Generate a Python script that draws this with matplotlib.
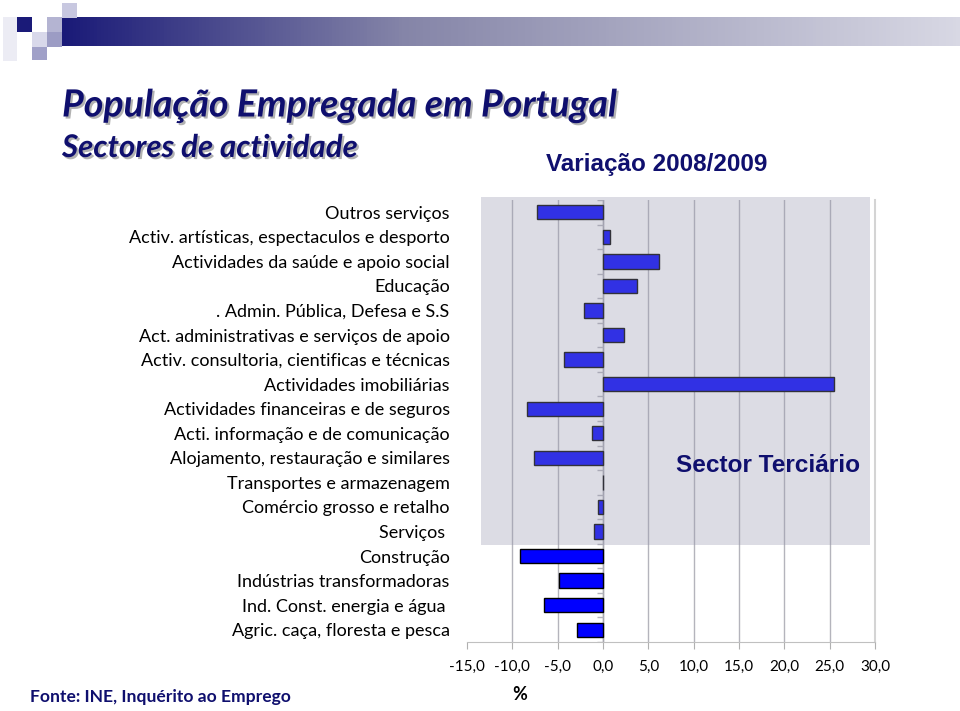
import matplotlib.pyplot as plt
import matplotlib.patheffects as pe
from matplotlib.patches import Rectangle
from matplotlib.colors import LinearSegmentedColormap
import numpy as np

# categorias de cima para baixo
categorias = [
    'Outros serviços',
    'Activ. artísticas, espectaculos e desporto',
    'Actividades da saúde e apoio social',
    'Educação',
    '. Admin. Pública, Defesa e S.S',
    'Act. administrativas e serviços de apoio',
    'Activ. consultoria, cientificas e técnicas',
    'Actividades imobiliárias',
    'Actividades financeiras e de seguros',
    'Acti. informação e de comunicação',
    'Alojamento, restauração e similares',
    'Transportes e armazenagem',
    'Comércio grosso e retalho',
    'Serviços ',
    'Construção',
    'Indústrias transformadoras',
    'Ind. Const. energia e água ',
    'Agric. caça, floresta e pesca',
]
variacao = [-7.3, 0.8, 6.2, 3.8, -2.1, 2.3, -4.3, 25.5, -8.4, -1.2,
            -7.6, 0.0, -0.5, -1.0, -9.1, -4.8, -6.5, -2.9]
n_terciario = 14
xticks = [-15, -10, -5, 0, 5, 10, 15, 20, 25, 30]

navy = '#0f0f6e'
W, H = 960, 711

fig = plt.figure(figsize=(9.6, 7.11), dpi=100)


def fig_rect(x, y, w, h, color):
    fig.add_artist(Rectangle((x / W, 1 - (y + h) / H), w / W, h / H,
                             transform=fig.transFigure, color=color, lw=0))


# faixa decorativa no topo
ban = fig.add_axes([62 / W, 1 - 46 / H, (W - 62) / W, 29 / H])
cmap = LinearSegmentedColormap.from_list(
    'ban', [(0, '#1a1a78'), (0.38, '#8585a8'), (1, '#d8d8e4')])
ban.imshow(np.linspace(0, 1, 256)[None, :], aspect='auto', cmap=cmap)
ban.axis('off')
fig_rect(3, 17, 14, 44, '#ececf4')
fig_rect(17, 17, 15, 15, '#1a1a78')
fig_rect(47, 17, 15, 15, '#b4b4d2')
fig_rect(62, 3, 15, 15, '#c8c8e0')
fig_rect(32, 32, 15, 15, '#d8d8ea')
fig_rect(47, 32, 15, 15, '#9c9cc4')
fig_rect(32, 47, 15, 13, '#a0a0c8')

shadow = [pe.SimplePatchShadow(offset=(1.5, -1.5), shadow_rgbFace='#808080', alpha=0.6), pe.Normal()]
fig.text(62 / W, 1 - 105 / H, 'População Empregada em Portugal', fontsize=27,
         fontweight='bold', style='italic', family='Lato', color=navy,
         va='center', path_effects=shadow)
fig.text(62 / W, 1 - 148 / H, 'Sectores de actividade', fontsize=22.5,
         fontweight='bold', style='italic', family='Lato', color=navy,
         va='center', path_effects=shadow)
fig.text(546 / W, 1 - 164 / H, 'Variação 2008/2009', fontsize=17.5,
         fontweight='bold', family='Liberation Sans', color=navy, va='center')
fig.text(30 / W, 1 - 697 / H, 'Fonte: INE, Inquérito ao Emprego', fontsize=12.6,
         fontweight='bold', family='Lato', color=navy, va='center')

ax = fig.add_axes([467 / W, 1 - 642 / H, 408 / W, 442 / H])
n = len(categorias)
pos = np.arange(n)[::-1]
ax.barh(pos, variacao, height=0.58, color='#0000ff', edgecolor='black',
        linewidth=1, zorder=3)

ax.set_xlim(-15, 30)
ax.set_ylim(-0.5, n - 0.5)
ax.set_xticks(xticks)
ax.set_xticklabels(['{:.1f}'.format(v).replace('.', ',') for v in xticks],
                   family='Lato', fontsize=11)
ax.set_yticks(pos)
ax.set_yticklabels(categorias, family='Lato', fontsize=13)
ax.tick_params(axis='y', length=0, pad=12.5)
ax.tick_params(axis='x', length=5, color='#b0b0b0', pad=8)
ax.set_xlabel('%', fontsize=13, fontweight='bold', family='Lato')
ax.xaxis.set_label_coords(0.13, -0.10)

for s in ['top', 'left']:
    ax.spines[s].set_visible(False)
ax.spines['bottom'].set_color('#c0c0c0')
ax.spines['right'].set_color('#d4d4d4')
ax.spines['right'].set_linewidth(1.5)
for v in xticks[1:-1]:
    ax.axvline(v, color='#b4b4bc', lw=1, zorder=1)
ax.axvline(0, color='#a8a8b0', lw=1, zorder=2)
ax.plot(np.zeros(n + 1), np.arange(n + 1) - 0.5, marker=0, ls='none',
        ms=4, color='#b4b4bc', zorder=2)

# caixa do sector terciário
ax.add_patch(Rectangle((-13.5, n - n_terciario - 0.55), 43.0, n_terciario + 0.17,
                       facecolor='#9696ae', alpha=0.33, lw=0, zorder=4, clip_on=False))
ax.text(18.2, 6.7, 'Sector Terciário', fontsize=17.6, fontweight='bold',
        family='Liberation Sans', color=navy, ha='center', va='center', zorder=5)

plt.savefig('out.png', dpi=100)
plt.close()
